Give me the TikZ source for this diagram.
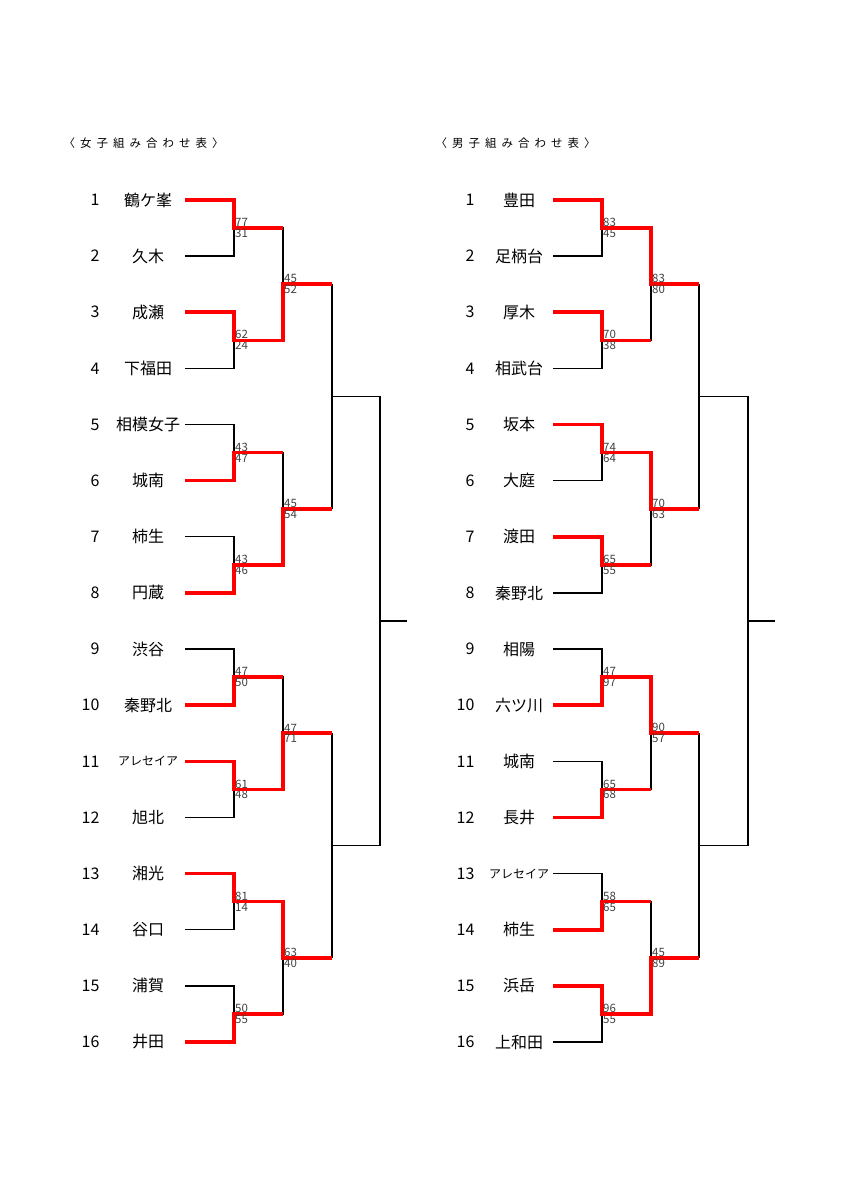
\documentclass[tikz,border=0pt]{standalone}
\usepackage{fontspec}
\setmainfont{Noto Sans CJK JP}
\usetikzlibrary{positioning}
\pgfdeclarelayer{front}
\pgfsetlayers{main,front}
\newcommand*{\gap}{\hspace{5pt}}
% one match: xin, xv, xout, ytop, ybot, winner (0 none, 1 top, 2 bottom), scores
\newcommand{\bout}[8]{%
  \pgfmathsetmacro\ymid{(#4+#5)/2}
  \draw[wire] (#1,#4) -- (#2,#4) -- (#2,#5) -- (#1,#5) (#2,\ymid) -- (#3,\ymid);
  \begin{pgfonlayer}{front}
  \ifcase#6\or
    \draw[win] (#1,#4) -- (#2,#4) -- (#2,\ymid) -- (#3,\ymid);
  \or
    \draw[win] (#1,#5) -- (#2,#5) -- (#2,\ymid) -- (#3,\ymid);
  \fi
  \node[score, anchor=south west] at (#2,\ymid) {#7};
  \node[score, anchor=north west] at (#2,\ymid) {#8};
  \end{pgfonlayer}
}
\tikzset{
  wire/.style={line width=1.3pt, black},
  win/.style={line width=3.6pt, red, line join=miter},
  score/.style={inner sep=1pt, font=\fontsize{11.5}{11.5}\selectfont, text=black!75},
  team/.style={font=\fontsize{16}{16}\selectfont},
  seed/.style={anchor=east, font=\fontsize{16}{16}\selectfont},
  heading/.style={anchor=west, font=\fontsize{11.5}{11.5}\selectfont}
}
\begin{document}
\begin{tikzpicture}[x=1pt, y=-1pt]
 \useasboundingbox (0,0) rectangle (849,1200);
 \node[heading] (titleW) at (60,143) {〈\gap 女\gap 子\gap 組\gap み\gap 合\gap わ\gap せ\gap 表\gap 〉};
 \node[heading] (titleM) at (432,143) {〈\gap 男\gap 子\gap 組\gap み\gap 合\gap わ\gap せ\gap 表\gap 〉};

 % women
 \foreach \n/\t in {1/鶴ケ峯, 2/久木, 3/成瀬, 4/下福田, 5/相模女子, 6/城南, 7/柿生, 8/円蔵,
   9/渋谷, 10/秦野北, 11/{\fontsize{12}{12}\selectfont アレセイア}, 12/旭北, 13/湘光, 14/谷口, 15/浦賀, 16/井田} {
   \pgfmathsetmacro\yy{200+56.133*(\n-1)}
   \node[seed] (wn\n) at (103,\yy) {\n};
   \node[team] (wt\n) at (148,\yy) {\t};
 }
 \foreach \k/\w/\a/\b in {1/1/77/31, 2/1/62/24, 3/2/43/47, 4/2/43/46, 5/2/47/50, 6/1/61/48, 7/1/81/14, 8/2/50/55} {
   \pgfmathsetmacro\yt{200+56.133*(2*\k-2)}
   \pgfmathsetmacro\yb{\yt+56.133}
   \bout{185}{234}{283}{\yt}{\yb}{\w}{\a}{\b}
 }
 \foreach \k/\w/\a/\b in {1/2/45/52, 2/2/45/54, 3/2/47/71, 4/1/63/40} {
   \pgfmathsetmacro\yt{228.07+224.53*(\k-1)}
   \pgfmathsetmacro\yb{\yt+112.27}
   \bout{234}{283}{332}{\yt}{\yb}{\w}{\a}{\b}
 }
 \foreach \k in {1,2} {
   \pgfmathsetmacro\yt{284.2+449.07*(\k-1)}
   \pgfmathsetmacro\yb{\yt+224.53}
   \bout{283}{332}{380}{\yt}{\yb}{0}{}{}
 }
 \bout{332}{380}{407}{396.47}{845.53}{0}{}{}

 % men
 \foreach \n/\t in {1/豊田, 2/足柄台, 3/厚木, 4/相武台, 5/坂本, 6/大庭, 7/渡田, 8/秦野北,
   9/相陽, 10/六ツ川, 11/城南, 12/長井, 13/{\fontsize{12}{12}\selectfont アレセイア}, 14/柿生, 15/浜岳, 16/上和田} {
   \pgfmathsetmacro\yy{200+56.133*(\n-1)}
   \node[seed] (mn\n) at (478,\yy) {\n};
   \node[team] (mt\n) at (519,\yy) {\t};
 }
 \foreach \k/\w/\a/\b in {1/1/83/45, 2/1/70/38, 3/1/74/64, 4/1/65/55, 5/2/47/97, 6/2/65/68, 7/2/58/65, 8/1/96/55} {
   \pgfmathsetmacro\yt{200+56.133*(2*\k-2)}
   \pgfmathsetmacro\yb{\yt+56.133}
   \bout{553}{602}{651}{\yt}{\yb}{\w}{\a}{\b}
 }
 \foreach \k/\w/\a/\b in {1/1/83/80, 2/1/70/63, 3/1/90/57, 4/2/45/89} {
   \pgfmathsetmacro\yt{228.07+224.53*(\k-1)}
   \pgfmathsetmacro\yb{\yt+112.27}
   \bout{602}{651}{699}{\yt}{\yb}{\w}{\a}{\b}
 }
 \foreach \k in {1,2} {
   \pgfmathsetmacro\yt{284.2+449.07*(\k-1)}
   \pgfmathsetmacro\yb{\yt+224.53}
   \bout{651}{699}{748}{\yt}{\yb}{0}{}{}
 }
 \bout{699}{748}{775}{396.47}{845.53}{0}{}{}
\end{tikzpicture}
\end{document}
